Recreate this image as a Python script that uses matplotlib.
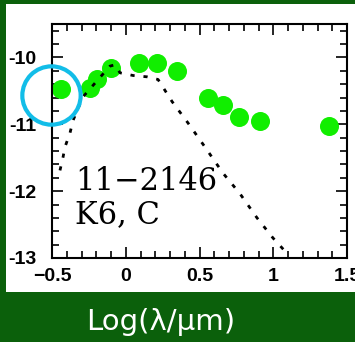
import numpy as np
import matplotlib
matplotlib.use("Agg")
import matplotlib.pyplot as plt
from matplotlib.patches import Rectangle
from matplotlib.ticker import MultipleLocator

# photometry (log wavelength, log flux)
obs_logwl = [-0.441, -0.242, -0.197, -0.10, 0.09, 0.21, 0.345, 0.56, 0.657, 0.768, 0.91, 1.38]
obs_logf = [-10.47, -10.46, -10.33, -10.16, -10.08, -10.08, -10.21, -10.61, -10.71, -10.885, -10.95, -11.03]

# model photosphere (dotted)
mod_logwl = [-0.446, -0.425, -0.412, -0.378, -0.357, -0.29, -0.175, -0.107, -0.073, -0.039,
             0.049, 0.144, 0.219, 0.314, 0.422, 0.537, 0.659, 0.775, 0.890, 0.998, 1.093]
mod_logf = [-11.69, -11.49, -11.34, -11.13, -10.94, -10.59, -10.30, -10.13, -10.11, -10.23,
            -10.27, -10.29, -10.33, -10.66, -10.98, -11.34, -11.73, -12.04, -12.40, -12.70, -12.93]

# highlighted point
hl_x, hl_y = -0.507, -10.56

label_lines = ["11\u22122146", "K6, C"]

fig = plt.figure(figsize=(3.55, 3.42), dpi=100, facecolor="#0b600b")
fig.patches.append(Rectangle((6 / 355, 50 / 342), 1.0, 288 / 342, transform=fig.transFigure,
                             facecolor="white", edgecolor="none", zorder=-10))

ax = fig.add_axes([52 / 355, 84 / 342, 295 / 355, 234 / 342])
ax.set_facecolor("white")

ax.plot(obs_logwl, obs_logf, "o", color="#11ee00", markersize=13.7, markeredgewidth=0, zorder=2)
ax.plot(mod_logwl, mod_logf, color="black", lw=2.0, linestyle=(0, (1.5, 3.2)), zorder=3)
ax.plot([hl_x], [hl_y], "o", markerfacecolor="none", markeredgecolor="#12bde8",
        markersize=42, markeredgewidth=3.0, clip_on=False, zorder=4)

ax.set_xlim(-0.5, 1.5)
ax.set_ylim(-13, -9.5)
ax.xaxis.set_major_locator(MultipleLocator(0.5))
ax.xaxis.set_minor_locator(MultipleLocator(0.1))
ax.yaxis.set_major_locator(MultipleLocator(1))
ax.yaxis.set_minor_locator(MultipleLocator(0.2))
ax.set_xticks([-0.5, 0, 0.5, 1, 1.5])
ax.set_xticklabels(["\u22120.5", "0", "0.5", "1", "1.5"])
ax.set_yticks([-13, -12, -11, -10])
ax.set_yticklabels(["-13", "-12", "-11", "-10"])

ax.tick_params(which="both", direction="in", top=True, right=True, width=1.2, color="black")
ax.tick_params(which="major", length=8)
ax.tick_params(which="minor", length=5)
ax.tick_params(axis="y", pad=11)
ax.tick_params(axis="x", pad=7)
for lab in ax.get_xticklabels() + ax.get_yticklabels():
    lab.set_fontfamily("Liberation Sans")
    lab.set_fontweight("bold")
    lab.set_fontsize(14)
for s in ax.spines.values():
    s.set_linewidth(1.5)

ax.text(0.078, 0.2906, label_lines[0], transform=ax.transAxes, family="DejaVu Serif",
        fontsize=22, va="baseline", ha="left")
ax.text(0.078, 0.1496, label_lines[1], transform=ax.transAxes, family="DejaVu Serif",
        fontsize=22, va="baseline", ha="left")

fig.text(0.4535, 0.035, "Log(\u03bb/\u03bcm)", color="white", fontsize=21,
         family="DejaVu Sans", ha="center", va="baseline")

fig.savefig("out.png", dpi=100, facecolor=fig.get_facecolor())
